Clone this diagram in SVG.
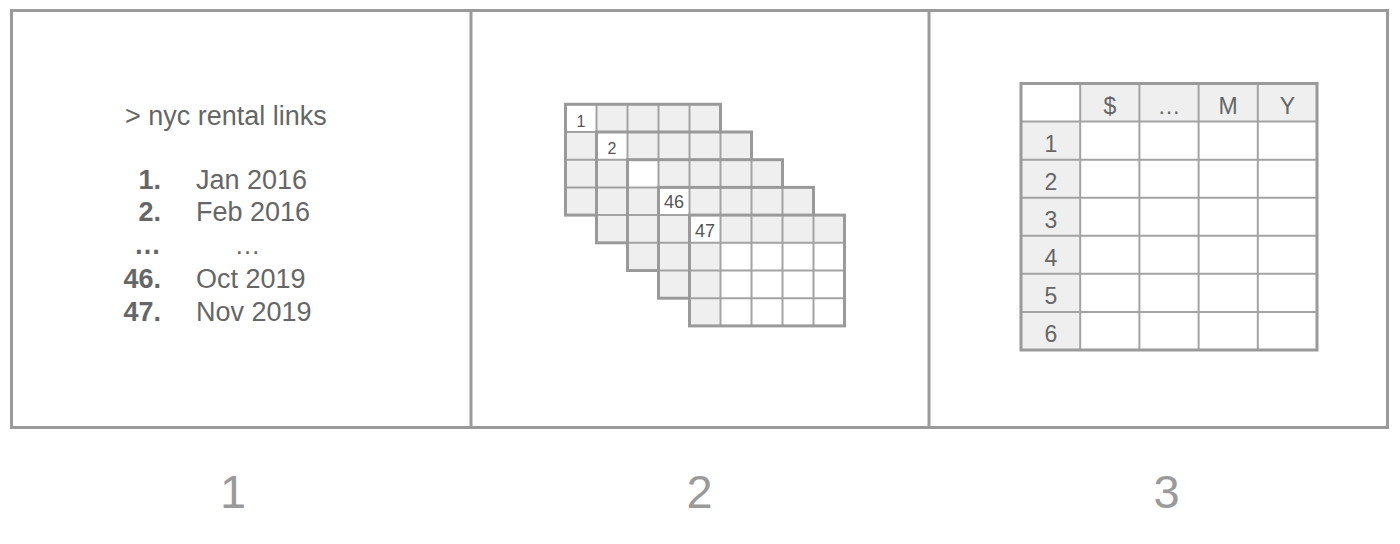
<svg xmlns="http://www.w3.org/2000/svg" xmlns:xlink="http://www.w3.org/1999/xlink" width="1400" height="544" viewBox="0 0 1400 544">
<style>
.frame{fill:none;stroke:#9a9a9a;stroke-width:3}
.t{font-family:"Liberation Sans",Arial,sans-serif;fill:#666}
.b{font-weight:bold}
.lbl{font-family:"Liberation Sans",Arial,sans-serif;fill:#9a9a9a;font-size:47px;text-anchor:middle}
.gray{fill:#efefef}
.white{fill:#ffffff}
.inner{stroke:#a3a3a3;stroke-width:2;fill:none}
.outer{stroke:#9a9a9a;stroke-width:3;fill:none}
.gn{font-family:"Liberation Sans",Arial,sans-serif;fill:#555;text-anchor:middle}
.tn{font-family:"Liberation Sans",Arial,sans-serif;fill:#666;font-size:23px;text-anchor:middle}
</style>
<defs>
<g id="gridLines">
<path class="inner" d="M31 0V110.8M62 0V110.8M93 0V110.8M124 0V110.8M0 27.7H155M0 55.4H155M0 83.1H155"/>
<rect class="outer" x="0" y="0" width="155" height="110.8"/>
</g>
</defs>

<g id="frame">
<rect class="frame" x="11.5" y="10.5" width="1376" height="417"/>
<line class="frame" x1="471" y1="10.5" x2="471" y2="427.5"/>
<line class="frame" x1="929" y1="10.5" x2="929" y2="427.5"/>
</g>

<g id="panel1-list">
<text class="t" x="125" y="125" font-size="27">&gt; nyc rental links</text>
<text class="t b" x="161" y="189" font-size="27" text-anchor="end">1.</text>
<text class="t" x="196" y="189" font-size="27">Jan 2016</text>
<text class="t b" x="161" y="221" font-size="27" text-anchor="end">2.</text>
<text class="t" x="196" y="221" font-size="27">Feb 2016</text>
<text class="t b" x="161" y="253.5" font-size="27" text-anchor="end">…</text>
<text class="t" x="247.5" y="253.5" font-size="26" text-anchor="middle">…</text>
<text class="t b" x="161" y="288" font-size="27" text-anchor="end">46.</text>
<text class="t" x="196" y="288" font-size="27">Oct 2019</text>
<text class="t b" x="161" y="320.5" font-size="27" text-anchor="end">47.</text>
<text class="t" x="196" y="320.5" font-size="27">Nov 2019</text>
</g>

<g id="sheet-1" transform="translate(565.5,104.3)">
<rect class="gray" x="0" y="0" width="155" height="110.8"/>
<rect class="white" x="0" y="0" width="31" height="27.7"/>
<use xlink:href="#gridLines"/>
<text class="gn" x="15.5" y="22.8" font-size="16">1</text>
</g>
<g id="sheet-2" transform="translate(596.5,132)">
<rect class="gray" x="0" y="0" width="155" height="110.8"/>
<rect class="white" x="0" y="0" width="31" height="27.7"/>
<use xlink:href="#gridLines"/>
<text class="gn" x="15.5" y="22.3" font-size="16">2</text>
</g>
<g id="sheet-3" transform="translate(627.5,159.7)">
<rect class="gray" x="0" y="0" width="155" height="110.8"/>
<rect class="white" x="0" y="0" width="31" height="27.7"/>
<use xlink:href="#gridLines"/>
</g>
<g id="sheet-46" transform="translate(658.5,187.4)">
<rect class="gray" x="0" y="0" width="155" height="110.8"/>
<rect class="white" x="0" y="0" width="31" height="27.7"/>
<use xlink:href="#gridLines"/>
<text class="gn" x="15.5" y="21" font-size="18">46</text>
</g>
<g id="sheet-47" transform="translate(689.5,215.1)">
<rect class="gray" x="0" y="0" width="155" height="110.8"/>
<rect class="white" x="0" y="0" width="31" height="27.7"/>
<rect class="white" x="31" y="27.7" width="124" height="83.1"/>
<use xlink:href="#gridLines"/>
<text class="gn" x="15.5" y="21.6" font-size="18">47</text>
</g>

<g id="table">
<rect class="white" x="1021" y="83.5" width="296" height="266.5"/>
<rect class="gray" x="1080.2" y="83.5" width="236.8" height="38.07"/>
<rect class="gray" x="1021" y="121.57" width="59.2" height="228.43"/>
<path class="inner" d="M1080.2 83.5V350M1139.4 83.5V350M1198.6 83.5V350M1257.8 83.5V350M1021 121.57H1317M1021 159.64H1317M1021 197.71H1317M1021 235.78H1317M1021 273.85H1317M1021 311.92H1317"/>
<rect class="outer" x="1021" y="83.5" width="296" height="266.5"/>
<text class="tn" x="1109.8" y="113.5" font-size="24">$</text>
<text class="tn" x="1169" y="113.5" font-size="22">…</text>
<text class="tn" x="1228.2" y="113.5" font-size="24">M</text>
<text class="tn" x="1287.4" y="113.5" font-size="24">Y</text>
<text class="tn" x="1051" y="151.7">1</text>
<text class="tn" x="1051" y="189.8">2</text>
<text class="tn" x="1051" y="227.8">3</text>
<text class="tn" x="1051" y="265.9">4</text>
<text class="tn" x="1051" y="304">5</text>
<text class="tn" x="1051" y="342">6</text>
</g>

<g id="labels">
<text class="lbl" x="233" y="507.5">1</text>
<text class="lbl" x="699.5" y="508">2</text>
<text class="lbl" x="1166.5" y="508">3</text>
</g>
</svg>
